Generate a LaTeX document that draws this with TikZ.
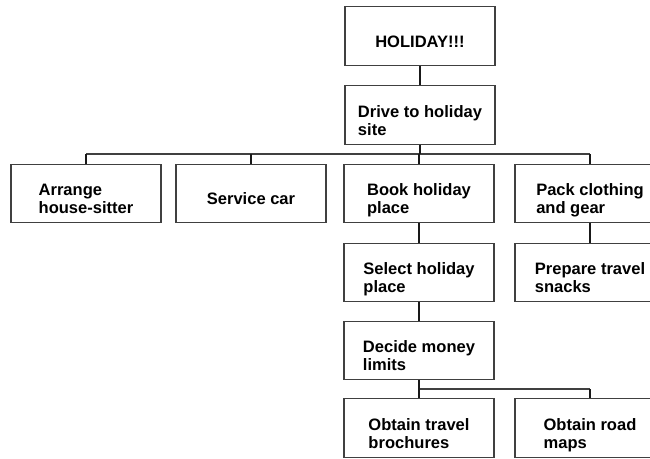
\documentclass[tikz,border=0pt]{standalone}
\usepackage{fontspec}
\setmainfont{Liberation Sans}
\newlength\px
\setlength\px{0.75pt}
% text block of a box: left-aligned lines, set a little below the centre
\newcommand\boxlines[1]{\raisebox{-5.7pt}[\height][\depth]{\begin{tabular}{@{}l@{}}#1\end{tabular}}}
\begin{document}
\begin{tikzpicture}[x=0.75pt,y=-0.75pt,
  box/.style={draw=black!75, line width=1pt, fill=white,
    minimum width=150\px, minimum height=58.5\px, inner sep=0pt,
    font=\fontsize{12.4}{13.8}\selectfont\bfseries},
  link/.style={draw=black!90, line width=1.2pt},
  bus/.style={draw=black!75, line width=0.8pt}]
\useasboundingbox (0,0) rectangle (650,458);
\clip (0,0) rectangle (650,458);

% tasks
\node[box] (holiday)  at (420,36)    {\boxlines{HOLIDAY!!!}};
\node[box] (drive)    at (420,115)   {\boxlines{Drive to holiday\\site}};
\node[box] (arrange)  at (86,193.5)  {\boxlines{Arrange\\house-sitter}};
\node[box] (service)  at (251,193.5) {\boxlines{Service car}};
\node[box] (book)     at (419,193.5) {\boxlines{Book holiday\\place}};
\node[box] (pack)     at (590,193.5) {\boxlines{Pack clothing\\and gear}};
\node[box] (select)   at (419,272.5) {\boxlines{Select holiday\\place}};
\node[box] (prepare)  at (590,272.5) {\boxlines{Prepare travel\\snacks}};
\node[box] (decide)   at (419,350.5) {\boxlines{Decide money\\limits}};
\node[box] (brochure) at (419,428)   {\boxlines{Obtain travel\\brochures}};
\node[box] (maps)     at (590,428)   {\boxlines{Obtain road\\maps}};

% levels of the two branching lines
\coordinate (upper) at (0,154);
\coordinate (lower) at (0,389);

% straight connectors
\draw[link] (holiday.south) -- (drive.north);
\draw[link] (book.south) -- (select.north);
\draw[link] (pack.south) -- (prepare.north);
\draw[link] (select.south) -- (decide.north);

% upper branching: Drive to holiday site -> four tasks
\draw[bus] (arrange.north |- upper) -- (pack.north |- upper);
\draw[link] (drive.south) -- (drive.south |- upper);
\foreach \c in {arrange,service,book,pack}
  \draw[link] (\c.north |- upper) -- (\c.north);

% lower branching: Decide money limits -> two tasks
\draw[bus] (brochure.north |- lower) -- (maps.north |- lower);
\draw[link] (decide.south) -- (decide.south |- lower);
\foreach \c in {brochure,maps}
  \draw[link] (\c.north |- lower) -- (\c.north);
\end{tikzpicture}
\end{document}
